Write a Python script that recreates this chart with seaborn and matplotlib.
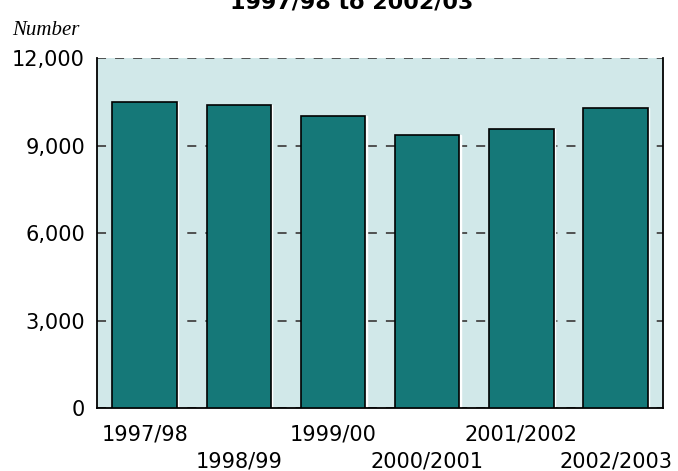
import numpy as np
import matplotlib
matplotlib.use("Agg")
import matplotlib.pyplot as plt
import matplotlib.transforms as mtransforms
import seaborn as sns

# DATA
years  = ["1997/98", "1998/99", "1999/00", "2000/2001", "2001/2002", "2002/2003"]
values = [10490, 10400, 10010, 9380, 9580, 10290]
yticks = [0, 3000, 6000, 9000, 12000]
ytick_labels = ["0", "3,000", "6,000", "9,000", "12,000"]

BAR_COLOR = "#157878"
BG_COLOR  = "#D1E8E9"
GRID_COLOR = "#454545"

sns.set_style("white")
plt.rcParams['font.family'] = ['DejaVu Sans']
plt.rcParams['text.color'] = 'black'
plt.rcParams['xtick.color'] = 'black'
plt.rcParams['ytick.color'] = 'black'

fig = plt.figure(figsize=(6.78, 4.71), dpi=100)
ax = fig.add_axes([0.1438, 0.1338, 0.8336, 0.7424])
ax.set_facecolor(BG_COLOR)

# white edge to the right of every bar
x = np.arange(len(years))
ax.bar(x + 0.014, values, width=0.684, color="white", zorder=2)

sns.barplot(x=years, y=values, color=BAR_COLOR, saturation=1, width=0.684,
            edgecolor="black", linewidth=1.2, ax=ax, zorder=3)

ax.set_ylim(0, 12000)
ax.set_xlim(-0.5, len(years) - 0.5)
ax.set_yticks(yticks)
ax.set_yticklabels(ytick_labels, fontsize=15, color="black")
ax.set_xticks(x)
ax.set_xticklabels(years, fontsize=15, color="black")
ax.tick_params(axis="both", length=0)
ax.tick_params(axis="y", pad=9)
ax.tick_params(axis="x", pad=12)
ax.set_xlabel("")
ax.set_ylabel("")

# stagger every second year label onto a lower row
shift = mtransforms.ScaledTranslation(0, -0.27, fig.dpi_scale_trans)
for i, lab in enumerate(ax.get_xticklabels()):
    if i % 2 == 1:
        lab.set_transform(lab.get_transform() + shift)

ax.yaxis.grid(True, linestyle=(0, (5, 5)), color=GRID_COLOR, linewidth=1.3, zorder=1)
ax.set_axisbelow(True)

for side in ["left", "right", "bottom"]:
    ax.spines[side].set_visible(True)
    ax.spines[side].set_color("black")
    ax.spines[side].set_linewidth(1.3)
ax.spines["top"].set_visible(False)

fig.text(12 / 678, 1 - 35 / 471, "Number", fontsize=15, style="italic",
         family=["Liberation Serif"], va="baseline", ha="left")
fig.text(352 / 678, 1 - 8 / 471, "1997/98 to 2002/03", fontsize=16,
         fontweight="bold", va="baseline", ha="center")

fig.savefig("out.png", dpi=100)
